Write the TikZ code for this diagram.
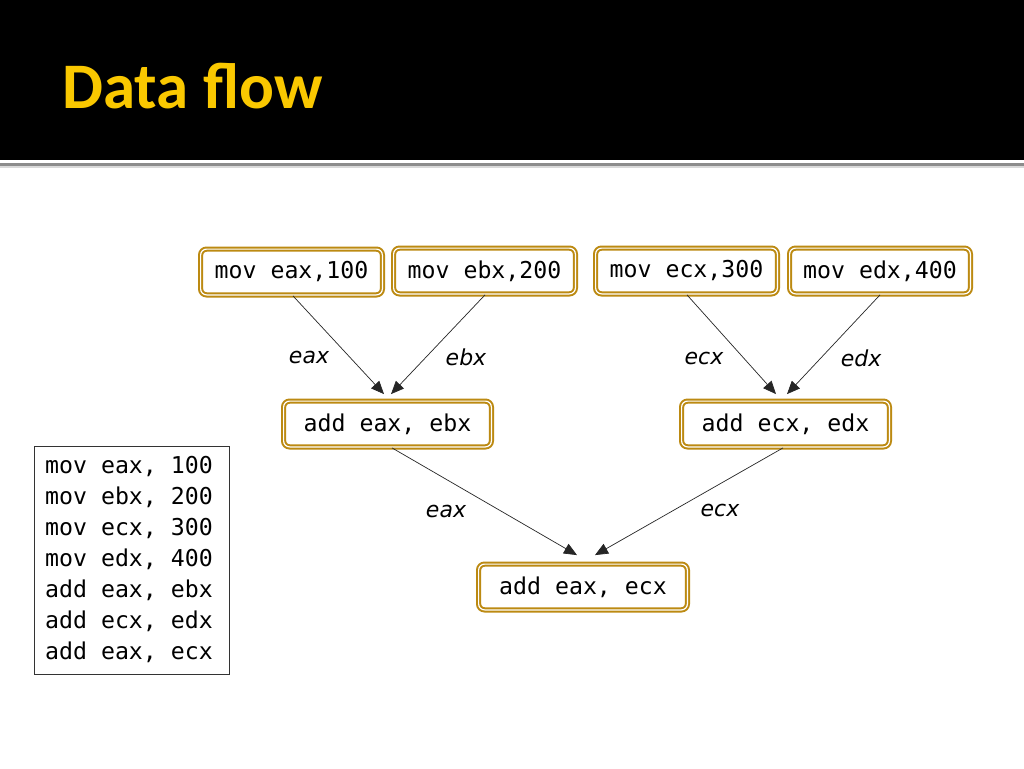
\documentclass[tikz,border=0pt]{standalone}
\usepackage{fontspec}
\usetikzlibrary{arrows.meta}
\newfontfamily\titlefont{Carlito}
\newfontfamily\codefont{DejaVu Sans Mono}
\newfontfamily\labfont{DejaVu Sans}
\definecolor{gold}{RGB}{188,138,18}
\definecolor{titleyellow}{RGB}{250,200,0}
\tikzset{
  instr/.style={draw=gold, line width=2pt, double=white, double distance=1.2pt,
    rounded corners=6pt, inner sep=0pt, minimum height=45.8pt,
    font=\codefont\fontsize{23.2}{28}\selectfont},
  flow/.style={draw=black!85, line width=0.7pt, -{Triangle[length=13pt,width=11pt]}},
  reglab/.style={font=\labfont\itshape\fontsize{22}{26}\selectfont, inner sep=0pt}
}
\begin{document}
\begin{tikzpicture}[x=1pt,y=-1pt]
\useasboundingbox (0,0) rectangle (1024,768);
\fill[white] (0,0) rectangle (1024,768);
\fill[black] (0,0) rectangle (1024,160);
\draw[black!45, line width=3pt] (0,164) -- (1024,164);
\draw[black!15, line width=1.5pt] (0,167) -- (1024,167);
\node[anchor=base west, inner sep=0pt, text=titleyellow, font=\titlefont\bfseries\fontsize{65}{70}\selectfont] (title) at (62,108) {Data flow};

\node[instr, minimum width=181.8pt] (A) at (291.5,272) {mov eax,100};
\node[instr, minimum width=181.8pt] (B) at (484.5,271) {mov ebx,200};
\node[instr, minimum width=181.8pt] (C) at (686.5,271) {mov ecx,300};
\node[instr, minimum width=180.8pt] (D) at (880,271) {mov edx,400};
\node[instr, minimum width=207.8pt] (E) at (387.5,424) {add eax, ebx};
\node[instr, minimum width=207.8pt] (F) at (785.5,424) {add ecx, edx};
\node[instr, minimum width=208.8pt] (G) at (583,587) {add eax, ecx};

\draw[flow] ([xshift=1.5pt]A.south) -- ([xshift=-3.5pt,yshift=6pt]E.north);
\draw[flow] ([xshift=0.5pt]B.south) -- ([xshift=3.5pt,yshift=6pt]E.north);
\draw[flow] ([xshift=0.5pt]C.south) -- ([xshift=-9.5pt,yshift=6pt]F.north);
\draw[flow] (D.south) -- ([xshift=1.5pt,yshift=6pt]F.north);
\draw[flow] ([xshift=4.5pt]E.south) -- ([xshift=-6pt,yshift=8pt]G.north);
\draw[flow] ([xshift=-2.5pt]F.south) -- ([xshift=12pt,yshift=8pt]G.north);

\node[reglab] (l1) at (309,357) {eax};
\node[reglab] (l2) at (466,357) {ebx};
\node[reglab] (l3) at (704,358) {ecx};
\node[reglab] (l4) at (861,358) {edx};
\node[reglab] (l5) at (446,511) {eax};
\node[reglab] (l6) at (720,510) {ecx};

\node[draw=black!80, line width=1pt, anchor=north west, inner sep=0pt,
  minimum width=195pt, minimum height=228pt,
  font=\codefont\fontsize{23.2}{31}\selectfont] (code) at (34,446)
  {\begin{tabular}{@{}l@{\hspace{6pt}}}mov eax, 100\\mov ebx, 200\\mov ecx, 300\\mov edx, 400\\add eax, ebx\\add ecx, edx\\add eax, ecx\end{tabular}};
\end{tikzpicture}
\end{document}
